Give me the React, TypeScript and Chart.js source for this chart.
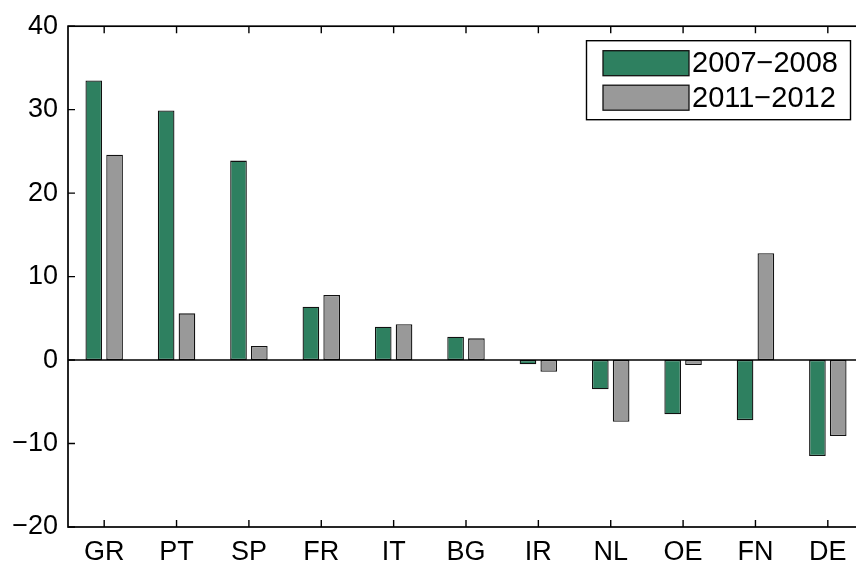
import React, { useEffect, useRef } from "react";
import { Chart, registerables } from "chart.js";

Chart.register(...registerables);

const categories = ["GR", "PT", "SP", "FR", "IT", "BG", "IR", "NL", "OE", "FN", "DE"];
const series2007 = [33.5, 29.9, 23.9, 6.4, 4.0, 2.8, -0.5, -3.5, -6.5, -7.2, -11.5];
const series2011 = [24.6, 5.6, 1.7, 7.8, 4.3, 2.6, -1.4, -7.4, -0.6, 12.8, -9.1];
const seriesLabels = ["2007\u22122008", "2011\u22122012"];
const seriesColors = ["#2E8060", "#999999"];
const yMin = -20;
const yMax = 40;
const yStep = 10;

const FONT = "'Liberation Sans', Arial, Helvetica, sans-serif";

const framePlugin = {
  id: "matlabFrame",
  afterDraw(chart: any) {
    const { ctx, chartArea, scales } = chart;
    const { left, right, top, bottom } = chartArea;
    const x = scales.x;
    const y = scales.y;
    ctx.save();
    ctx.strokeStyle = "#000";
    // baseline at zero
    ctx.lineWidth = 1.4;
    const y0 = y.getPixelForValue(0);
    ctx.beginPath();
    ctx.moveTo(left, y0);
    ctx.lineTo(right, y0);
    ctx.stroke();
    // frame
    ctx.lineWidth = 1.7;
    ctx.strokeRect(left, top, right - left, bottom - top);
    // ticks
    const tl = 7;
    ctx.lineWidth = 1.4;
    ctx.beginPath();
    for (let v = yMin; v <= yMax; v += yStep) {
      const py = y.getPixelForValue(v);
      ctx.moveTo(left, py);
      ctx.lineTo(left + tl, py);
      ctx.moveTo(right, py);
      ctx.lineTo(right - tl, py);
    }
    for (let i = 0; i < categories.length; i++) {
      const px = x.getPixelForValue(i);
      ctx.moveTo(px, bottom);
      ctx.lineTo(px, bottom - tl);
      ctx.moveTo(px, top);
      ctx.lineTo(px, top + tl);
    }
    ctx.stroke();

    // legend
    const lx1 = right - 277.5;
    const ly1 = top + 14.5;
    const lw = 264;
    const lh = 79;
    ctx.fillStyle = "#fff";
    ctx.fillRect(lx1, ly1, lw, lh);
    ctx.lineWidth = 1.4;
    ctx.strokeRect(lx1, ly1, lw, lh);
    ctx.font = `29px ${FONT}`;
    ctx.textBaseline = "middle";
    ctx.textAlign = "left";
    chart.data.datasets.forEach((ds: any, i: number) => {
      const sx = lx1 + 16.5;
      const sy = ly1 + 10 + i * 34.5;
      ctx.fillStyle = ds.backgroundColor;
      ctx.fillRect(sx, sy, 86, 25);
      ctx.lineWidth = 1.3;
      ctx.strokeStyle = "#111";
      ctx.strokeRect(sx, sy, 86, 25);
      ctx.fillStyle = "#000";
      ctx.fillText(ds.label, sx + 89, sy + 13.5);
    });
    ctx.restore();
  },
};

export default function App() {
  const ref = useRef<HTMLCanvasElement | null>(null);
  useEffect(() => {
    if (!ref.current) return;
    const chart = new Chart(ref.current, {
      type: "bar",
      data: {
        labels: categories,
        datasets: [
          {
            label: seriesLabels[0],
            data: series2007,
            backgroundColor: seriesColors[0],
            borderColor: "#111",
            borderWidth: 1.3,
            borderSkipped: false,
            categoryPercentage: 0.575,
            barPercentage: 0.8,
          },
          {
            label: seriesLabels[1],
            data: series2011,
            backgroundColor: seriesColors[1],
            borderColor: "#111",
            borderWidth: 1.3,
            borderSkipped: false,
            categoryPercentage: 0.575,
            barPercentage: 0.8,
          },
        ],
      },
      options: {
        animation: false,
        responsive: false,
        devicePixelRatio: 1,
        layout: { padding: { top: 24, right: 16, left: 0, bottom: 0 } },
        plugins: { legend: { display: false }, tooltip: { enabled: false } },
        scales: {
          x: {
            offset: true,
            grid: { display: false, drawTicks: false },
            border: { display: false },
            ticks: {
              color: "#000",
              font: { family: FONT, size: 27 },
              padding: 9,
              maxRotation: 0,
              autoSkip: false,
            },
            afterFit(scale: any) {
              scale.height = 38;
            },
          },
          y: {
            min: yMin,
            max: yMax,
            grid: { display: false, drawTicks: false },
            border: { display: false },
            ticks: {
              stepSize: yStep,
              color: "#000",
              font: { family: FONT, size: 27 },
              padding: 10,
              callback: (v: any) => (Number(v) < 0 ? "\u2212" + Math.abs(Number(v)) : String(v)),
            },
            afterFit(scale: any) {
              scale.width = 68;
            },
          },
        },
      },
      plugins: [framePlugin],
    });
    return () => chart.destroy();
  }, []);
  return (
    <div
      style={{
        position: "fixed",
        left: 0,
        top: 0,
        width: 856,
        height: 565,
        overflow: "hidden",
        background: "#fff",
      }}
    >
      <canvas ref={ref} width={880} height={565} style={{ display: "block" }} />
    </div>
  );
}
